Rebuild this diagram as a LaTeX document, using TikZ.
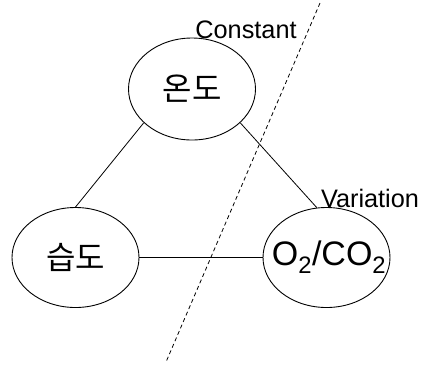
\documentclass[tikz,border=0pt]{standalone}
\usepackage{fontspec}
\usetikzlibrary{shapes.geometric}
\setmainfont{Liberation Sans}
\newfontfamily\kofont{Noto Sans CJK KR}
\begin{document}
\begin{tikzpicture}[x=1pt,y=-1pt,
  topic/.style={draw,ellipse,line width=0.9pt,minimum width=127pt,minimum height=100pt,inner sep=0pt},
  kor/.style={font=\kofont\fontsize{32}{34}\selectfont},
  link/.style={line width=0.8pt},
  lbl/.style={font=\fontsize{25.3}{27}\selectfont,inner sep=0pt}]
\useasboundingbox (0,0) rectangle (422,365);
\node[topic,kor,minimum height=102pt] (temp) at (192,89) {온도};
\node[topic,kor] (hum) at (75.5,257.5) {\raisebox{-2pt}{습도}};
% the formula is allowed to run past the outline, so it takes no width
\node[topic,font=\fontsize{34}{36}\selectfont] (gas) at (326.5,257.5)
  {\makebox[0pt]{\hspace{5pt}O\textsubscript{2}/CO\textsubscript{2}}};
\draw[link] (temp.215) -- (hum.90);
\draw[link] (temp.-35) -- (gas.101);
\draw[link] (hum) -- (gas);
\coordinate (cuttop) at (320,3);
\coordinate (cutbot) at (166,362);
\draw[dashed,line width=0.8pt,dash pattern=on 4pt off 3pt] (cuttop) -- (cutbot);
\node[lbl] (const) at (246,30) {Constant};
\node[lbl] (var) at (370,198) {Variation};
\end{tikzpicture}
\end{document}
